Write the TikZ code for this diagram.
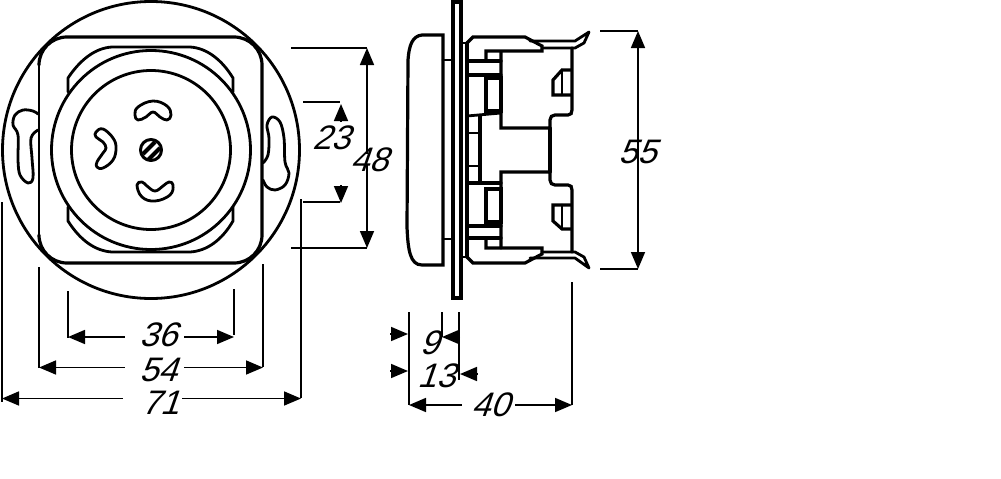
\documentclass[tikz,border=0pt]{standalone}
\usepackage{fontspec}
\setmainfont[FakeSlant=0.35]{Liberation Sans}
\usetikzlibrary{arrows.meta}

\tikzset{
	part/.style={line width=2.8pt, line join=round, line cap=round},
	sidepart/.style={line width=3.2pt, line join=miter, line cap=round},
	thinpart/.style={line width=1.8pt, line cap=round},
	extline/.style={line width=1.7pt},
	dimarrow/.style={line width=1.7pt, -{Triangle[length=17pt,width=14pt]}},
	dimlabel/.style={inner sep=0pt, font=\fontsize{34}{34}\selectfont},
}

\begin{document}
\begin{tikzpicture}[x=1pt, y=-1pt]
	
	\useasboundingbox (0, 0) rectangle (1001, 479);
	
	% front view
	\draw[part] (151, 150) circle (148.5);
	\draw[part, line width=3.2pt] (39, 65) arc (180:270:28) -- (234, 37) arc (-90:0:28) -- (262, 235) arc (0:90:28) -- (67, 263) arc (90:180:28);
	\draw[thinpart] (39, 65) -- (39, 235);
	
	% body behind the ring
	\draw[part] (68, 92) -- (68, 78) .. controls (80, 60) and (95, 48) .. (112, 47) -- (190, 47) .. controls (207, 48) and (222, 60) .. (233, 78) -- (233, 92);
	\draw[part] (68, 207) -- (68, 221) .. controls (80, 240) and (95, 251) .. (112, 252) -- (190, 252) .. controls (207, 251) and (222, 240) .. (233, 221) -- (233, 207);
	
	\draw[part, fill=white] (151, 150) circle (99.5);
	\draw[part] (151, 150) circle (79.5);
	
	% contact slots
	\draw[part] plot[smooth cycle, tension=0.7] coordinates {(135, 115) (138, 107) (153, 101) (167, 106) (171, 115) (167, 120) (160, 117) (153, 112) (146, 117) (138, 120)};
	\draw[part] plot[smooth cycle, tension=0.7] coordinates {(96, 132) (103, 129) (113, 138) (116, 148) (113, 160) (103, 168) (97, 167) (97, 162) (103, 153) (106, 148) (103, 142) (96, 137)};
	\draw[part] plot[smooth cycle, tension=0.7] coordinates {(137, 185) (142, 182) (147, 186) (155, 191) (163, 186) (169, 182) (173, 185) (170, 195) (155, 201) (142, 197)};
	
	% screw
	\draw[part, line width=3pt] (151, 150) circle (10.5);
	\draw[line width=4pt] (143, 154) -- (155, 142);
	\draw[line width=4pt] (148, 160) -- (160, 148);
	
	% keyholes
	\draw[part] plot[smooth, tension=0.6] coordinates {(38, 114) (33, 111) (23, 110) (15, 115) (13, 125) (18, 135) (18, 160) (20, 175) (28, 183) (33, 178) (32, 158) (31, 138) (38, 130)};
	\draw[part] plot[smooth, tension=0.6] coordinates {(263, 163) (268, 155) (269, 138) (267, 125) (272, 117) (280, 122) (284, 138) (285, 162) (289, 173) (285, 185) (275, 190) (267, 187) (263, 180)};
	
	% side view
	\draw[sidepart] (443, 35) -- (422, 35) .. controls (412, 36) and (409, 46) .. (408, 60) -- (407, 227) .. controls (408, 250) and (410, 265) .. (422, 265) -- (443, 265) -- cycle;
	\draw[sidepart] (453, 2) rectangle (461, 298);
	\draw[part] (443, 60) -- (453, 60);
	\draw[part] (443, 239) -- (453, 239);
	\draw[part] (461, 43) -- (467, 43);
	\draw[part] (461, 257) -- (467, 257);
	\draw[sidepart] (467, 43) -- (467, 257);
	
	% upper clamp
	\draw[sidepart] (467, 43) -- (473, 37) -- (525, 37) -- (542, 46) -- (542, 51) -- (486, 51) -- (486, 61);
	\draw[part] (530, 41) -- (575, 41) -- (589, 32) -- (584, 43) -- (575, 48) -- (542, 48);
	\draw[sidepart] (501, 52) -- (501, 128) -- (550, 128) -- (550, 120) .. controls (550, 117) and (552, 115) .. (555, 115) -- (568, 115) .. controls (571, 115) and (572, 113) .. (572, 110) -- (572, 48);
	\draw[sidepart] (571, 70) -- (562, 70) -- (553, 80) -- (553, 95) -- (571, 95);
	\draw[part] (562, 70) -- (562, 95);
	\draw[sidepart] (467, 61) -- (501, 61);
	\draw[sidepart] (467, 75) -- (501, 75);
	\draw[sidepart] (486, 78) rectangle (501, 111);
	\draw[part] (467, 116) -- (501, 113);
	\draw[sidepart] (480, 116) -- (480, 183);
	\draw[part] (467, 133) -- (480, 133);
	\draw[part] (467, 166) -- (480, 166);
	
	% lower clamp
	\draw[sidepart] (467, 257) -- (473, 263) -- (525, 263) -- (542, 254) -- (542, 248) -- (486, 248) -- (486, 238);
	\draw[part] (530, 258) -- (575, 258) -- (589, 268) -- (584, 257) -- (575, 252) -- (542, 252);
	\draw[sidepart] (501, 248) -- (501, 172) -- (550, 172) -- (550, 180) .. controls (550, 183) and (552, 185) .. (555, 185) -- (568, 185) .. controls (571, 185) and (572, 187) .. (572, 190) -- (572, 252);
	\draw[sidepart] (571, 205) -- (553, 205) -- (553, 221) -- (562, 229) -- (571, 229);
	\draw[part] (562, 205) -- (562, 229);
	\draw[sidepart] (467, 183) -- (501, 183);
	\draw[sidepart] (486, 189) rectangle (501, 222);
	\draw[sidepart] (467, 226) -- (501, 226);
	\draw[sidepart] (467, 238) -- (501, 238);
	\draw[sidepart] (550, 128) -- (550, 172);
	
	% dimension labels
	\node[dimlabel] (l36) at (158, 335) {36};
	\node[dimlabel] (l54) at (158, 370) {54};
	\node[dimlabel] (l71) at (160, 403) {71};
	\node[dimlabel] (l23) at (331, 138) {23};
	\node[dimlabel] (l48) at (369, 160) {48};
	\node[dimlabel] (l55) at (637, 152) {55};
	\node[dimlabel] (l9)  at (429, 343) {9};
	\node[dimlabel] (l13) at (436, 376) {13};
	\node[dimlabel] (l40) at (490, 405) {40};
	
	\coordinate (t36a) at (68, 337);
	\coordinate (t36b) at (234, 337);
	\coordinate (t54a) at (39, 367.5);
	\coordinate (t54b) at (263, 367.5);
	\coordinate (t71a) at (2, 398.5);
	\coordinate (t71b) at (301, 398.5);
	\coordinate (t48a) at (367, 48);
	\coordinate (t48b) at (367, 248);
	\coordinate (t55a) at (638, 31);
	\coordinate (t55b) at (638, 269);
	\coordinate (t40a) at (409, 405);
	\coordinate (t40b) at (572, 405);
	
	\path[dimarrow] ([xshift=-14pt]l36.west |- t36a) edge (t36a);
	\path[dimarrow] ([xshift=7pt]l36.east |- t36b) edge (t36b);
	\path[dimarrow] ([xshift=-14pt]l54.west |- t54a) edge (t54a);
	\path[dimarrow] ([xshift=7pt]l54.east |- t54b) edge (t54b);
	\path[dimarrow] ([xshift=-18pt]l71.west |- t71a) edge (t71a);
	\path[dimarrow] ([xshift=3pt]l71.east |- t71b) edge (t71b);
	\path[dimarrow] ([yshift=-6pt]l48.north -| t48a) edge (t48a);
	\path[dimarrow] ([yshift=8pt]l48.south -| t48b) edge (t48b);
	\path[dimarrow] ([yshift=-12pt]l55.north -| t55a) edge (t55a);
	\path[dimarrow] ([yshift=12pt]l55.south -| t55b) edge (t55b);
	\path[dimarrow] ([xshift=-9pt]l40.west |- t40a) edge (t40a);
	\path[dimarrow] ([xshift=6pt]l40.east |- t40b) edge (t40b);
	
	% arrows from outside
	\coordinate (t23a) at (341, 104);
	\coordinate (t23b) at (341, 203);
	\coordinate (s23a) at (341, 122);
	\coordinate (s23b) at (341, 185);
	\coordinate (t9a) at (408, 334);
	\coordinate (s9a) at (390, 334);
	\coordinate (t9b) at (442, 337);
	\coordinate (s9b) at (460, 337);
	\coordinate (t13a) at (408, 371);
	\coordinate (s13a) at (390, 371);
	\coordinate (t13b) at (460, 374);
	\coordinate (s13b) at (477, 374);
	
	\path[dimarrow] (s23a) edge (t23a);
	\path[dimarrow] (s23b) edge (t23b);
	\path[dimarrow] (s9a) edge (t9a);
	\path[dimarrow] (s9b) edge (t9b);
	\path[dimarrow] (s13a) edge (t13a);
	\path[dimarrow] (s13b) edge (t13b);
	
	% extension lines
	\draw[extline] (291, 48) -- (367, 48);
	\draw[extline] (291, 248) -- (367, 248);
	\draw[extline] (303, 102) -- (340, 102);
	\draw[extline] (303, 202) -- (340, 202);
	\draw[extline] (600, 31) -- (638, 31);
	\draw[extline] (600, 269) -- (638, 269);
	\draw[extline] (2, 202) -- (2, 402);
	\draw[extline] (301, 199) -- (301, 398);
	\draw[extline] (39, 267) -- (39, 368);
	\draw[extline] (263, 264) -- (263, 367);
	\draw[extline] (68, 291) -- (68, 338);
	\draw[extline] (234, 289) -- (234, 335);
	\draw[extline] (409, 312) -- (409, 405);
	\draw[extline] (442, 312) -- (442, 337);
	\draw[extline] (459, 312) -- (459, 380);
	\draw[extline] (572, 282) -- (572, 405);
	
\end{tikzpicture}
\end{document}
